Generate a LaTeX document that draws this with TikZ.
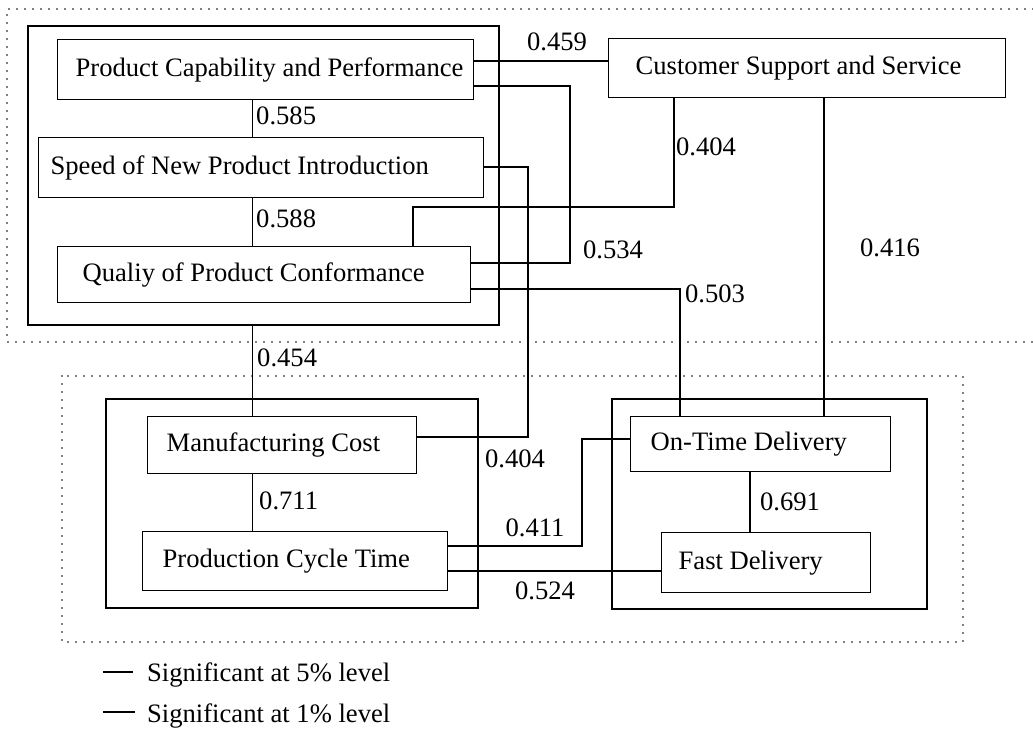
\documentclass[tikz,border=0pt]{standalone}
\usepackage{fontspec}
\setmainfont{Liberation Serif}
\newcommand{\boxtext}[3]{\makebox[#1pt][l]{\hspace*{#2pt}#3}}
\begin{document}
\begin{tikzpicture}[x=1pt,y=-1pt,font=\fontsize{26.6pt}{30pt}\selectfont,
  box/.style={draw, line width=1.3pt, inner sep=0pt, anchor=north west},
  group/.style={draw, line width=2.3pt, inner sep=0pt, anchor=north west},
  sig5/.style={line width=1.3pt},
  sig1/.style={line width=2.6pt},
  dots/.style={line width=1.9pt, dash pattern=on 0pt off 8pt, line cap=round},
  lbl/.style={inner sep=0pt}]
\useasboundingbox (0,0) rectangle (1033,738);
% dotted regions
\draw[dots] (1033,9) -- (7,9) -- (7,342) -- (1033,342);
\draw[dots] (62,376) rectangle (963,642);
% group boxes
\node[group, minimum width=471pt, minimum height=299pt] (g1) at (27,25) {};
\node[group, minimum width=372pt, minimum height=209pt] (g2) at (105,398) {};
\node[group, minimum width=315pt, minimum height=210pt] (g3) at (611,398) {};
% factor boxes
\node[box, minimum height=60pt] (pcp) at (57,39) {\boxtext{416}{18}{Product Capability and Performance}};
\node[box, minimum height=60pt] (spd) at (38,137) {\boxtext{445}{12}{Speed of New Product Introduction}};
\node[box, minimum height=56pt] (qual) at (57,246) {\boxtext{413}{25}{Qualiy of Product Conformance}};
\node[box, minimum height=59pt] (cust) at (608,38) {\boxtext{397}{27}{Customer Support and Service}};
\node[box, minimum height=57pt] (mfg) at (147,416) {\boxtext{269}{19}{Manufacturing Cost}};
\node[box, minimum height=59pt] (prod) at (142,531) {\boxtext{305}{20}{Production Cycle Time}};
\node[box, minimum height=55pt] (ont) at (630,416) {\boxtext{260}{20}{On-Time Delivery}};
\node[box, minimum height=60pt] (fast) at (661,532) {\boxtext{209}{17}{Fast Delivery}};
% routing coordinates
\coordinate (cA) at (252.5,0);
\coordinate (cB) at (750,0);
\coordinate (r61) at (0,61);
\coordinate (b534a) at (570,86);
\coordinate (b534b) at (570,263);
\coordinate (b503) at (680,289);
\coordinate (r571) at (0,571);
\coordinate (b404a) at (674,207);
\coordinate (b404b) at (413,207);
\coordinate (c416) at (824,0);
\coordinate (b404c) at (528,167);
\coordinate (b404d) at (528,437);
\coordinate (b411a) at (582,546);
\coordinate (b411b) at (582,439);
% connectors
\draw[sig5] (pcp.south -| cA) -- (spd.north -| cA);
\draw[sig5] (spd.south -| cA) -- (qual.north -| cA);
\draw[sig5] (g1.south -| cA) -- (mfg.north -| cA);
\draw[sig5] (mfg.south -| cA) -- (prod.north -| cA);
\draw[sig5] (ont.south -| cB) -- (fast.north -| cB);
\draw[sig1] (pcp.east |- r61) -- (cust.west |- r61);
\draw[sig1] (pcp.east |- b534a) -- (b534a) -- (b534b) -- (qual.east |- b534b);
\draw[sig1] (qual.east |- b503) -- (b503) -- (ont.north -| b503);
\draw[sig1] (prod.east |- r571) -- (fast.west |- r571);
\draw[sig5] (cust.south -| b404a) -- (b404a) -- (b404b) -- (qual.north -| b404b);
\draw[sig5] (cust.south -| c416) -- (ont.north -| c416);
\draw[sig5] (spd.east |- b404c) -- (b404c) -- (b404d) -- (mfg.east |- b404d);
\draw[sig5] (prod.east |- b411a) -- (b411a) -- (b411b) -- (ont.west |- b411b);
% labels
\node[lbl] (l459) at (557,42) {0.459};
\node[lbl, anchor=west] (l585) at (256,116) {0.585};
\node[lbl, anchor=west] (l588) at (256,219) {0.588};
\node[lbl] (l404a) at (706,147) {0.404};
\node[lbl] (l534) at (613,250) {0.534};
\node[lbl] (l416) at (890,248) {0.416};
\node[lbl] (l503) at (715,294) {0.503};
\node[lbl, anchor=west] (l454) at (257,358) {0.454};
\node[lbl] (l404b) at (515,459) {0.404};
\node[lbl, anchor=west] (l711) at (259,501) {0.711};
\node[lbl] (l411) at (535,528) {0.411};
\node[lbl] (l691) at (790,502) {0.691};
\node[lbl] (l524) at (545,591) {0.524};
% legend
\node[lbl, anchor=base west] (leg5) at (147,681) {Significant at 5\% level};
\node[lbl, anchor=base west] (leg1) at (147,722) {Significant at 1\% level};
\coordinate (k5a) at (103,672);
\coordinate (k5b) at (133,672);
\coordinate (k1a) at (103,712);
\coordinate (k1b) at (135,712);
\draw[sig5] (k5a) -- (k5b);
\draw[sig1] (k1a) -- (k1b);
\end{tikzpicture}
\end{document}
